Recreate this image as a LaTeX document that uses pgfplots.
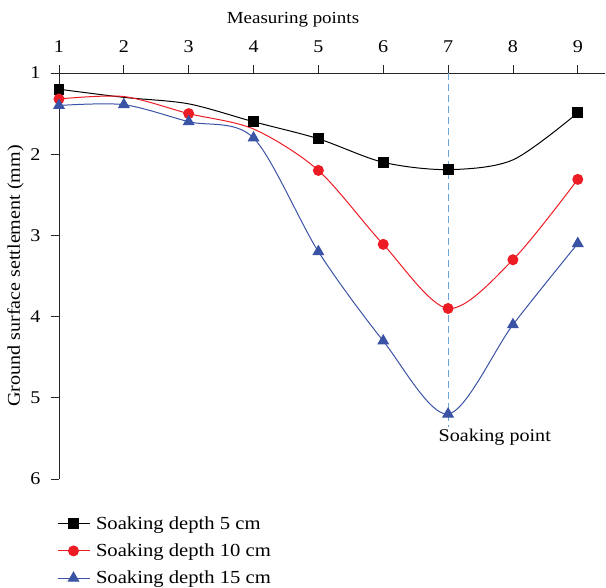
\documentclass[border=0pt]{standalone}
\usepackage{fontspec}
\setmainfont{Liberation Serif}[FakeStretch=1.12]
\usepackage{pgfplots}
\pgfplotsset{compat=1.18}
\definecolor{cred}{HTML}{ED1C24}
\definecolor{cblue}{HTML}{3A53A4}
\definecolor{cdash}{HTML}{6AA6DA}
\begin{document}
\begin{tikzpicture}[font=\fontsize{18}{21}\selectfont]
\begin{axis}[
  scale only axis, width=546bp, height=406bp,
  xmin=1, xmax=9.42, ymin=1, ymax=6, y dir=reverse,
  axis x line*=top, axis y line*=left,
  axis line style={line width=0.8pt, color=black!85},
  xtick={1,...,9}, ytick={1,...,6},
  tick align=outside, major tick length=8bp,
  tick style={line width=0.8pt, color=black!85},
  /pgf/number format/assume math mode=true,
  xticklabel style={yshift=9bp},
  yticklabel style={xshift=-7bp},
  xlabel={Measuring points}, ylabel={Ground surface settlement (mm)},
  xlabel style={yshift=6bp, xshift=-39bp, font=\fontsize{17}{20}\selectfont},
  ylabel style={yshift=0bp},
  legend style={at={(-0.004,-0.087)}, anchor=north west, draw=none, fill=none,
    row sep=9bp, column sep=4bp, inner sep=0pt, font=\fontsize{18.5}{21}\selectfont},
  every odd column/.style={column sep=12bp},
  legend cell align=left,
  legend image code/.code={
    \draw[#1, mark=none] (0bp,0bp) -- (32bp,0bp);
    \draw[#1, only marks] plot coordinates {(16bp,0bp)};},
  clip=false,
]
\addplot[cdash, line width=1pt, dash pattern=on 7bp off 4bp, forget plot] coordinates {(7,1) (7,5.36)};
\addplot[black, line width=1pt, smooth, mark=square*, mark size=5, mark options={solid}, mark indices={1,4,5,6,7,9}] coordinates {
(1,1.20) (2,1.30) (3,1.38) (4,1.60) (5,1.81) (6,2.10) (7,2.19) (8,2.07) (9,1.49)};
\addlegendentry{Soaking depth 5 cm}
\addplot[cred, line width=1pt, smooth, mark=*, mark size=5, mark options={solid}, mark indices={1,3,5,6,7,8,9}] coordinates {
(1,1.32) (2,1.29) (3,1.50) (4,1.69) (5,2.20) (6,3.11) (7,3.90) (8,3.30) (9,2.31)};
\addlegendentry{Soaking depth 10 cm}
\addplot[cblue, line width=1pt, smooth, mark=triangle*, mark size=6, mark options={solid}] coordinates {
(1,1.40) (2,1.39) (3,1.60) (4,1.80) (5,3.20) (6,4.30) (7,5.20) (8,4.10) (9,3.10)};
\addlegendentry{Soaking depth 15 cm}
\node[anchor=center] at (axis cs:7.72,5.48) {Soaking point};
\end{axis}
\path ([shift={(-59bp,73bp)}]current axis.north west) rectangle ++(606bp,-586bp);
\end{tikzpicture}
\end{document}
